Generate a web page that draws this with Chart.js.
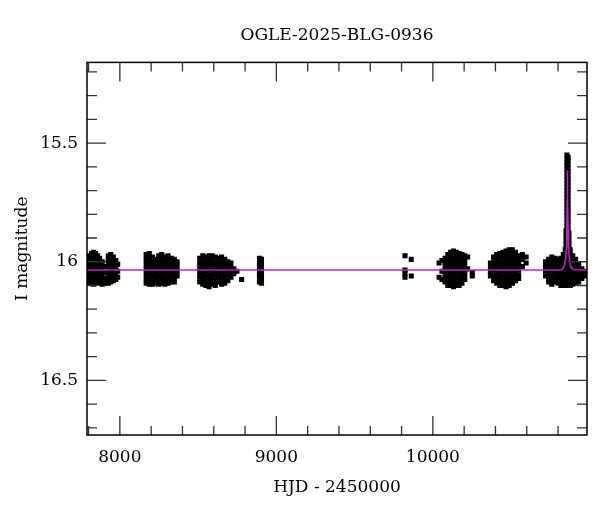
<!DOCTYPE html>
<html>
<head>
<meta charset="utf-8">
<title>OGLE-2025-BLG-0936</title>
<script src="https://cdn.jsdelivr.net/npm/chart.js@4.4.1/dist/chart.umd.min.js"></script>
<style>
  html, body { margin: 0; padding: 0; background: #fff; }
  #wrap { width: 600px; height: 512px; }
</style>
</head>
<body>
<div id="wrap"><canvas id="lc"></canvas></div>
<script>
// photometry, one entry per night-group: [HJD-2450000, [I mags...]]
var season2017 = [
  [7793, [15.985, 16.005, 16.025, 16.045, 16.065, 16.085]],
  [7806, [15.975, 15.995, 16.015, 16.035, 16.055, 16.075, 16.09]],
  [7819, [15.965, 15.985, 16.005, 16.025, 16.045, 16.065, 16.085]],
  [7832, [15.96, 15.98, 16.0, 16.02, 16.04, 16.06, 16.08, 16.095]],
  [7845, [15.965, 15.985, 16.005, 16.025, 16.045, 16.065, 16.085]],
  [7858, [15.975, 15.995, 16.015, 16.035, 16.055, 16.075, 16.09]],
  [7871, [15.985, 16.005, 16.025, 16.045, 16.065, 16.085]],
  [7887, [16.0, 16.025, 16.05, 16.075, 16.095]],
  [7903, [16.02, 16.045, 16.07, 16.09]],
  [7926, [15.975, 15.995, 16.015, 16.035, 16.055, 16.075, 16.09]],
  [7942, [15.97, 15.99, 16.01, 16.03, 16.05, 16.07, 16.085]],
  [7958, [15.98, 16.0, 16.02, 16.04, 16.06, 16.08]],
  [7974, [15.995, 16.015, 16.035, 16.055, 16.075]],
  [7986, [16.01, 16.04, 16.065]]
];
var season2018 = [
  [8168, [15.97, 15.99, 16.01, 16.03, 16.05, 16.07, 16.09]],
  [8188, [15.965, 15.985, 16.005, 16.025, 16.045, 16.065, 16.085, 16.095]],
  [8208, [15.98, 16.0, 16.02, 16.04, 16.06, 16.08, 16.095]],
  [8228, [15.99, 16.01, 16.03, 16.05, 16.07, 16.09]],
  [8248, [15.975, 15.995, 16.015, 16.035, 16.055, 16.075, 16.095]],
  [8268, [15.97, 15.99, 16.01, 16.03, 16.05, 16.07, 16.09]],
  [8288, [15.98, 16.0, 16.02, 16.04, 16.06, 16.08, 16.095]],
  [8308, [15.975, 15.995, 16.015, 16.035, 16.055, 16.075, 16.09]],
  [8328, [15.985, 16.005, 16.025, 16.045, 16.065, 16.085]],
  [8348, [15.99, 16.01, 16.03, 16.05, 16.07, 16.085]],
  [8366, [16.0, 16.02, 16.04, 16.06]]
];
var season2019 = [
  [8510, [15.985, 16.005, 16.025, 16.045, 16.065, 16.085]],
  [8530, [15.975, 15.995, 16.015, 16.035, 16.055, 16.075, 16.095]],
  [8550, [15.98, 16.0, 16.02, 16.04, 16.06, 16.08, 16.1]],
  [8570, [15.975, 15.995, 16.015, 16.035, 16.055, 16.075, 16.095, 16.105]],
  [8590, [15.975, 15.995, 16.015, 16.035, 16.055, 16.075, 16.095]],
  [8610, [15.98, 16.0, 16.02, 16.04, 16.06, 16.08, 16.1]],
  [8630, [15.985, 16.005, 16.025, 16.045, 16.065, 16.085]],
  [8650, [15.98, 16.0, 16.02, 16.04, 16.06, 16.08, 16.095]],
  [8670, [15.99, 16.01, 16.03, 16.05, 16.07, 16.09]],
  [8690, [16.0, 16.02, 16.04, 16.06, 16.08]],
  [8710, [16.005, 16.025, 16.045, 16.065]],
  [8728, [16.03, 16.05]],
  [8748, [16.04]],
  [8778, [16.075]]
];
var season2020 = [
  [8892, [15.985, 16.005, 16.025, 16.045, 16.065, 16.085]],
  [8905, [15.99, 16.01, 16.03, 16.05, 16.07, 16.09]]
];
var season2022 = [
  [9822, [15.975, 16.035, 16.05, 16.065]],
  [9862, [15.99, 16.06]]
];
var season2023 = [
  [10040, [16.005, 16.065]],
  [10058, [15.995, 16.04, 16.075]],
  [10078, [15.985, 16.005, 16.025, 16.045, 16.065, 16.085]],
  [10096, [15.97, 15.99, 16.01, 16.03, 16.05, 16.07, 16.09, 16.1]],
  [10114, [15.96, 15.98, 16.0, 16.02, 16.04, 16.06, 16.08, 16.1]],
  [10132, [15.955, 15.975, 15.995, 16.015, 16.035, 16.055, 16.075, 16.095, 16.105]],
  [10150, [15.96, 15.98, 16.0, 16.02, 16.04, 16.06, 16.08, 16.1]],
  [10168, [15.965, 15.985, 16.005, 16.025, 16.045, 16.065, 16.085, 16.1]],
  [10186, [15.97, 15.99, 16.01, 16.03, 16.05, 16.07, 16.09]],
  [10204, [15.975, 15.995, 16.015, 16.035, 16.055, 16.075]],
  [10222, [15.98, 16.03]],
  [10252, [16.045, 16.06]]
];
var season2024 = [
  [10368, [16.005, 16.025, 16.045, 16.06]],
  [10388, [15.98, 16.0, 16.02, 16.04, 16.06, 16.08]],
  [10408, [15.97, 15.99, 16.01, 16.03, 16.05, 16.07, 16.09]],
  [10428, [15.965, 15.985, 16.005, 16.025, 16.045, 16.065, 16.085, 16.1]],
  [10448, [15.96, 15.98, 16.0, 16.02, 16.04, 16.06, 16.08, 16.1]],
  [10468, [15.955, 15.975, 15.995, 16.015, 16.035, 16.055, 16.075, 16.095, 16.105]],
  [10488, [15.95, 15.97, 15.99, 16.01, 16.03, 16.05, 16.07, 16.09, 16.1]],
  [10508, [15.95, 15.97, 15.99, 16.01, 16.03, 16.05, 16.07, 16.09]],
  [10528, [15.96, 15.98, 16.0, 16.02, 16.04, 16.06, 16.08]],
  [10548, [15.975, 15.995, 16.015, 16.035, 16.055, 16.07]],
  [10572, [15.97, 15.99, 16.02]],
  [10596, [15.98, 16.005]]
];
var season2025 = [
  [10720, [16.0, 16.02, 16.04, 16.06]],
  [10740, [15.99, 16.01, 16.03, 16.05, 16.07, 16.085]],
  [10760, [15.98, 16.0, 16.02, 16.04, 16.06, 16.08, 16.095]],
  [10780, [15.985, 16.005, 16.025, 16.045, 16.065, 16.085]],
  [10800, [15.99, 16.01, 16.03, 16.05, 16.07, 16.09]],
  [10818, [15.985, 16.005, 16.025, 16.045, 16.065, 16.085, 16.1]],
  [10834, [15.97, 15.99, 16.01, 16.03, 16.05, 16.07, 16.09, 16.1]],
  [10846, [15.95, 15.97, 15.99, 16.01, 16.03, 16.05, 16.07, 16.09, 16.1]],
  [10851, [15.87, 15.89, 15.91, 15.93, 15.95, 15.97, 15.99, 16.01, 16.03, 16.05, 16.07, 16.09]],
  [10857, [15.55, 15.565, 15.58, 15.595, 15.61, 15.625, 15.64, 15.655, 15.67, 15.685, 15.7, 15.715,
           15.73, 15.745, 15.76, 15.775, 15.79, 15.805, 15.82, 15.835, 15.85, 15.865, 15.88, 15.895,
           15.91, 15.925, 15.94, 15.96, 15.98, 16.0, 16.02, 16.04, 16.06, 16.08, 16.1]],
  [10864, [15.56, 15.575, 15.59, 15.605, 15.62, 15.635, 15.65, 15.665, 15.68, 15.695, 15.71, 15.725,
           15.74, 15.755, 15.77, 15.785, 15.8, 15.815, 15.83, 15.845, 15.86, 15.875, 15.89, 15.905,
           15.92, 15.935, 15.95, 15.97, 15.99, 16.01, 16.03, 16.05, 16.07, 16.09]],
  [10870, [15.88, 15.9, 15.92, 15.94, 15.96, 15.98, 16.0, 16.02, 16.04, 16.06, 16.08, 16.1]],
  [10878, [15.95, 15.97, 15.99, 16.01, 16.03, 16.05, 16.07, 16.09, 16.1]],
  [10894, [15.975, 15.995, 16.015, 16.035, 16.055, 16.075, 16.095]],
  [10912, [15.99, 16.01, 16.03, 16.05, 16.07, 16.09]],
  [10932, [16.01, 16.03, 16.05, 16.07, 16.085]],
  [10952, [16.03, 16.05, 16.07]],
  [10972, [16.04, 16.06]]
];

// microlensing model curve (magenta)
var modelHjd = [7790, 10800, 10822, 10835, 10843, 10849, 10853, 10856, 10858, 10859, 10860,
                10861, 10862, 10864, 10867, 10871, 10877, 10885, 10898, 10985];
var modelMag = [16.035, 16.035, 16.034, 16.025, 16.01, 15.98, 15.94, 15.86, 15.74, 15.66, 15.615,
                15.66, 15.74, 15.86, 15.94, 15.98, 16.01, 16.025, 16.034, 16.035];

// axis ticks
var xMajor = [8000, 9000, 10000];
var xMinor = [7800, 8200, 8400, 8600, 8800, 9200, 9400, 9600, 9800, 10200, 10400, 10600, 10800];
var yMajor = [15.5, 16, 16.5];
var yMinor = [15.2, 15.3, 15.4, 15.6, 15.7, 15.8, 15.9, 16.1, 16.2, 16.3, 16.4, 16.6, 16.7];

function toPoints(cols) {
  var pts = [];
  cols.forEach(function (col) {
    col[1].forEach(function (m) { pts.push({x: col[0], y: m}); });
  });
  return pts;
}

var allSeasons = [].concat(season2017, season2018, season2019, season2020,
                           season2022, season2023, season2024, season2025);
var obs = toPoints(allSeasons);
var model = modelHjd.map(function (t, i) { return {x: t, y: modelMag[i]}; });

var serif = "'DejaVu Serif', 'Liberation Serif', serif";

// box + inward ticks on all four sides
var framePlugin = {
  id: 'frame',
  afterDraw: function (chart) {
    var c = chart.ctx, a = chart.chartArea;
    var xs = chart.scales.x, ys = chart.scales.y;
    function xTick(v, len) {
      var p = xs.getPixelForValue(v);
      c.moveTo(p, a.bottom); c.lineTo(p, a.bottom - len);
      c.moveTo(p, a.top); c.lineTo(p, a.top + len);
    }
    function yTick(v, len) {
      var p = ys.getPixelForValue(v);
      c.moveTo(a.left, p); c.lineTo(a.left + len, p);
      c.moveTo(a.right, p); c.lineTo(a.right - len, p);
    }
    c.save();
    c.strokeStyle = '#333';
    c.lineWidth = 1.3;
    c.beginPath();
    xMinor.forEach(function (v) { xTick(v, 9); });
    xMajor.forEach(function (v) { xTick(v, 19); });
    yMinor.forEach(function (v) { yTick(v, 10); });
    yMajor.forEach(function (v) { yTick(v, 19); });
    c.stroke();
    c.strokeStyle = '#000';
    c.lineWidth = 1.5;
    c.strokeRect(a.left, a.top, a.right - a.left, a.bottom - a.top);
    c.restore();
  }
};

var ctx = document.getElementById('lc').getContext('2d');
var chart = new Chart(ctx, {
  type: 'scatter',
  data: {
    datasets: [
      {
        label: 'model',
        type: 'line',
        data: model,
        borderColor: '#c81ec8',
        borderWidth: 1.5,
        pointRadius: 0,
        fill: false,
        tension: 0
      },
      {
        label: 'OGLE I',
        data: obs,
        pointStyle: 'rect',
        pointRadius: 3.6,
        backgroundColor: '#000',
        borderColor: '#000',
        borderWidth: 0
      }
    ]
  },
  options: {
    responsive: true,
    maintainAspectRatio: false,
    animation: false,
    layout: { padding: { left: 8, right: 13, top: 0, bottom: 0 } },
    plugins: {
      legend: { display: false },
      tooltip: { enabled: false },
      title: {
        display: true,
        text: 'OGLE-2025-BLG-0936',
        fullSize: false,
        color: '#000',
        font: { family: serif, size: 17, weight: 'normal' },
        padding: { top: 25, bottom: 17 }
      }
    },
    scales: {
      x: {
        type: 'linear',
        min: 7790,
        max: 10985,
        grid: { display: false, drawTicks: false },
        border: { display: false },
        afterBuildTicks: function (s) { s.ticks = xMajor.map(function (v) { return {value: v}; }); },
        afterFit: function (s) { s.height = 77; },
        ticks: {
          autoSkip: false,
          maxRotation: 0,
          padding: 12,
          color: '#000',
          font: { family: serif, size: 17 },
          callback: function (v) { return String(v); }
        },
        title: {
          display: true,
          text: 'HJD - 2450000',
          color: '#000',
          font: { family: serif, size: 17 },
          padding: { top: 4, bottom: 14 }
        }
      },
      y: {
        type: 'linear',
        reverse: true,
        min: 15.16,
        max: 16.73,
        grid: { display: false, drawTicks: false },
        border: { display: false },
        afterBuildTicks: function (s) { s.ticks = yMajor.map(function (v) { return {value: v}; }); },
        afterFit: function (s) { s.width = 79; },
        ticks: {
          autoSkip: false,
          padding: 9,
          color: '#000',
          font: { family: serif, size: 17 },
          callback: function (v) { return String(v); }
        },
        title: {
          display: true,
          text: 'I magnitude',
          color: '#000',
          font: { family: serif, size: 17 },
          padding: { top: 4, bottom: 4 }
        }
      }
    }
  },
  plugins: [framePlugin]
});
</script>
</body>
</html>
